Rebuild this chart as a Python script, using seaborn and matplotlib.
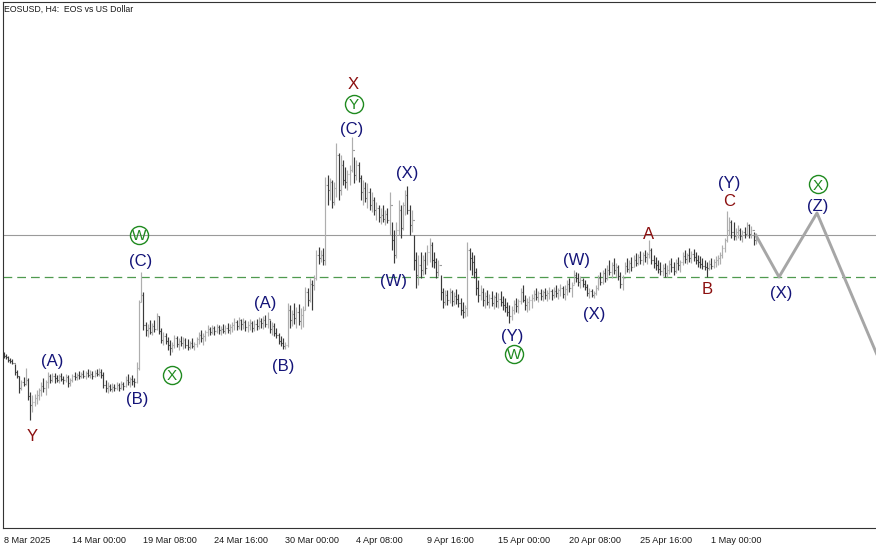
import numpy as np
import pandas as pd
import seaborn as sns
import matplotlib
matplotlib.use("Agg")
import matplotlib.pyplot as plt

# H4 bars for EOSUSD, prices in thousandths of a dollar
highs = [648, 646, 644, 642, 641, 636, 630, 624, 620, 623, 632, 622, 608, 605, 606, 610, 612, 618, 622, 620,
         628, 626, 627, 627, 625, 626, 627, 624, 626, 625, 622, 626, 628, 627, 629, 628, 630, 629, 631, 630,
         629, 630, 631, 632, 631, 628, 620, 618, 616, 617, 616, 618, 617, 619, 618, 624, 626, 623, 625, 622,
         638, 700, 728, 708, 678, 676, 680, 677, 680, 687, 684, 672, 668, 667, 663, 660, 658, 665, 664, 662,
         664, 663, 662, 661, 659, 662, 658, 663, 668, 670, 667, 670, 675, 673, 675, 674, 676, 675, 674, 676,
         675, 677, 676, 678, 682, 680, 683, 681, 682, 680, 679, 681, 679, 680, 681, 683, 682, 684, 685, 688,
         680, 678, 677, 672, 667, 664, 662, 658, 697, 695, 690, 697, 693, 696, 692, 694, 713, 712, 722, 720,
         725, 750, 753, 750, 752, 823, 825, 822, 820, 818, 857, 847, 845, 840, 833, 830, 835, 863, 843, 840,
         838, 825, 820, 818, 817, 812, 808, 803, 798, 795, 792, 795, 790, 792, 808, 778, 770, 778, 800, 795,
         798, 810, 814, 795, 790, 765, 748, 745, 748, 745, 748, 755, 762, 758, 748, 742, 740, 725, 712, 710,
         710, 712, 710, 708, 711, 706, 702, 698, 695, 758, 752, 748, 745, 732, 720, 715, 712, 708, 710, 706,
         709, 705, 708, 707, 709, 704, 702, 698, 695, 694, 700, 702, 701, 712, 715, 705, 702, 704, 706, 710,
         712, 709, 711, 710, 712, 710, 713, 711, 713, 715, 712, 716, 714, 715, 720, 722, 718, 730, 728, 727,
         724, 722, 720, 716, 712, 711, 709, 715, 725, 728, 730, 732, 735, 740, 738, 742, 737, 735, 728, 725,
         738, 742, 740, 743, 745, 747, 746, 749, 748, 750, 748, 760, 752, 745, 743, 740, 738, 736, 737, 735,
         740, 742, 738, 741, 743, 740, 748, 750, 747, 752, 749, 751, 748, 745, 744, 742, 740, 738, 740, 742,
         741, 744, 745, 748, 755, 762, 789, 783, 780, 778, 772, 775, 772, 770, 773, 778, 776, 774, 768, 767]
lows = [642, 641, 638, 637, 636, 625, 622, 607, 610, 614, 615, 600, 580, 588, 594, 596, 600, 604, 608, 605,
        612, 617, 618, 617, 618, 617, 619, 616, 618, 613, 614, 618, 620, 620, 621, 622, 622, 621, 623, 622,
        621, 623, 624, 624, 622, 612, 608, 607, 609, 608, 609, 610, 609, 611, 610, 613, 615, 613, 615, 613,
        617, 630, 698, 670, 664, 663, 666, 665, 668, 670, 666, 657, 655, 656, 650, 645, 648, 652, 653, 650,
        654, 651, 652, 650, 651, 652, 650, 653, 656, 658, 655, 659, 664, 665, 666, 665, 667, 666, 665, 667,
        666, 667, 666, 668, 670, 670, 671, 670, 671, 669, 668, 670, 668, 669, 670, 671, 672, 671, 673, 672,
        667, 665, 664, 662, 656, 654, 651, 651, 653, 672, 674, 676, 672, 675, 671, 673, 690, 694, 698, 690,
        710, 720, 736, 738, 735, 735, 795, 800, 792, 795, 803, 800, 805, 815, 812, 810, 815, 828, 817, 820,
        818, 800, 795, 798, 792, 790, 788, 785, 780, 778, 776, 778, 775, 777, 765, 750, 737, 742, 765, 762,
        770, 785, 786, 765, 768, 730, 712, 715, 722, 725, 726, 735, 738, 733, 732, 722, 724, 700, 692, 695,
        695, 697, 694, 695, 696, 693, 685, 682, 683, 684, 730, 725, 722, 705, 698, 700, 694, 692, 695, 692,
        694, 691, 693, 692, 694, 690, 688, 684, 677, 680, 686, 688, 687, 696, 698, 690, 688, 690, 692, 699,
        700, 698, 700, 699, 701, 699, 701, 700, 702, 703, 701, 704, 702, 700, 705, 708, 703, 716, 718, 714,
        712, 713, 710, 704, 702, 703, 702, 705, 710, 715, 716, 718, 720, 725, 722, 726, 723, 720, 712, 710,
        726, 728, 727, 729, 733, 734, 735, 736, 735, 738, 736, 742, 736, 732, 730, 727, 725, 724, 723, 723,
        726, 728, 725, 727, 730, 728, 735, 737, 736, 738, 737, 739, 736, 733, 732, 731, 730, 723, 730, 731,
        732, 733, 735, 736, 742, 748, 758, 765, 762, 760, 760, 762, 760, 758, 762, 764, 762, 762, 755, 756]
closes = [644, 643, 640, 639, 637, 628, 624, 612, 618, 616, 620, 604, 595, 598, 602, 605, 610, 614, 612, 618,
          624, 620, 624, 622, 620, 624, 621, 620, 623, 617, 620, 624, 623, 625, 624, 626, 624, 627, 625, 626,
          624, 627, 626, 628, 625, 615, 612, 614, 611, 613, 612, 615, 612, 616, 614, 620, 618, 621, 619, 618,
          632, 698, 705, 675, 670, 672, 668, 674, 671, 684, 669, 660, 664, 659, 655, 652, 655, 662, 656, 659,
          657, 660, 655, 653, 657, 654, 656, 661, 665, 662, 664, 668, 671, 668, 672, 669, 673, 670, 671, 669,
          672, 670, 673, 675, 678, 674, 680, 676, 678, 673, 675, 677, 672, 676, 674, 679, 677, 680, 676, 681,
          671, 674, 667, 665, 659, 657, 654, 655, 690, 680, 686, 682, 688, 679, 685, 690, 708, 700, 716, 715,
          722, 745, 742, 745, 740, 815, 810, 818, 798, 812, 845, 810, 835, 820, 818, 826, 830, 850, 825, 835,
          822, 808, 812, 802, 808, 795, 800, 790, 792, 783, 785, 781, 786, 780, 795, 760, 745, 770, 790, 772,
          795, 805, 790, 775, 780, 740, 725, 735, 730, 740, 732, 748, 755, 740, 738, 728, 735, 708, 698, 705,
          700, 708, 699, 704, 701, 697, 690, 688, 692, 750, 742, 738, 728, 712, 705, 708, 700, 704, 698, 702,
          697, 703, 699, 701, 698, 695, 693, 688, 684, 690, 696, 694, 699, 708, 700, 695, 698, 700, 702, 706,
          703, 707, 704, 708, 705, 707, 709, 705, 709, 707, 710, 712, 706, 711, 716, 712, 715, 725, 722, 718,
          720, 716, 713, 707, 709, 705, 707, 712, 722, 718, 727, 722, 730, 728, 735, 730, 733, 724, 716, 722,
          734, 731, 737, 733, 740, 737, 743, 740, 745, 743, 746, 750, 740, 737, 735, 731, 729, 732, 727, 730,
          736, 733, 729, 737, 735, 738, 744, 741, 745, 742, 746, 743, 740, 738, 736, 734, 733, 732, 736, 734,
          738, 740, 742, 745, 752, 760, 770, 778, 768, 764, 768, 770, 764, 768, 766, 775, 766, 770, 760, 765]
first_open = 646

# levels and forecast path
resistance_level = 765
support_level = 723
forecast_bars = [339, 349.5, 366.6, 400]
forecast_prices = [765, 723, 787, 612]

# x-axis labels
tick_dates = ["2025-03-08 20:00", "2025-03-14 00:00", "2025-03-19 08:00", "2025-03-24 16:00",
              "2025-03-30 00:00", "2025-04-04 08:00", "2025-04-09 16:00", "2025-04-15 00:00",
              "2025-04-20 08:00", "2025-04-25 16:00", "2025-05-01 00:00"]
tick_labels = ["8 Mar 2025", "14 Mar 00:00", "19 Mar 08:00", "24 Mar 16:00", "30 Mar 00:00",
               "4 Apr 08:00", "9 Apr 16:00", "15 Apr 00:00", "20 Apr 08:00", "25 Apr 16:00", "1 May 00:00"]

# wave labels: (bar, price, text, kind)
wave_labels = [
    (12.8, 565, "Y", "red"), (21.9, 640, "(A)", "blue"), (60.2, 602, "(B)", "blue"),
    (61.8, 740, "(C)", "blue"), (61.0, 765, "W", "circle"), (75.9, 625, "X", "circle"),
    (117.9, 698, "(A)", "blue"), (126.0, 635, "(B)", "blue"), (157.0, 872, "(C)", "blue"),
    (157.8, 896, "Y", "circle"), (157.8, 917, "X", "red"), (181.8, 828, "(X)", "blue"),
    (175.9, 720, "(W)", "blue"), (229.2, 665, "(Y)", "blue"), (230.0, 646, "W", "circle"),
    (258.0, 741, "(W)", "blue"), (266.1, 687, "(X)", "blue"), (290.9, 767, "A", "red"),
    (317.0, 712, "B", "red"), (327.0, 818, "(Y)", "blue"), (327.0, 800, "C", "red"),
    (350.4, 708, "(X)", "blue"), (366.9, 795, "(Z)", "blue"), (366.9, 816, "X", "circle"),
]

sns.set_style("white")
plt.rcParams["font.family"] = ["Liberation Sans", "DejaVu Sans"]

n = len(closes)
idx = np.arange(n)
opens = np.array([first_open] + closes[:-1]) / 1000
highs = np.array(highs) / 1000
lows = np.array(lows) / 1000
closes = np.array(closes) / 1000
bar_colors = np.where(closes >= opens, "#aeaeae", "#3a3a3a")

fig = plt.figure(figsize=(8.76, 5.45), dpi=100)
ax = fig.add_axes([3 / 876, 17 / 545, 873 / 876, 526 / 545])

# reference lines
ax.axhline(resistance_level / 1000, color="#9a9a9a", lw=0.8, zorder=1)
ax.axhline(support_level / 1000, color="#4f9a4f", lw=0.9, ls=(0, (7, 4)), zorder=1)

# OHLC bars
ax.vlines(idx, lows, highs, colors=bar_colors, lw=0.85, zorder=2)
ax.hlines(opens, idx - 0.45, idx, colors=bar_colors, lw=0.8, zorder=2)
ax.hlines(closes, idx, idx + 0.45, colors=bar_colors, lw=0.8, zorder=2)

# forecast path
proj = pd.DataFrame({"bar": forecast_bars, "price": np.array(forecast_prices) / 1000})
sns.lineplot(data=proj, x="bar", y="price", color="#a6a6a6", lw=2.1, sort=False,
             estimator=None, ax=ax, zorder=3)

# wave labels
for x, y, txt, kind in wave_labels:
    if kind == "circle":
        ax.plot(x, y / 1000, marker="o", ms=13, mfc="none", mec="#1f8a1f", mew=1.0, zorder=4)
        ax.text(x, y / 1000, txt, color="#1f8a1f", fontsize=11, ha="center", va="center_baseline", zorder=5)
    elif kind == "red":
        ax.text(x, y / 1000, txt, color="#8b0f0f", fontsize=12, ha="center", va="center_baseline", zorder=5)
    else:
        ax.text(x, y / 1000, txt, color="#141478", fontsize=12, ha="center", va="center_baseline", zorder=5)

# axes styling
ax.set_xlim(-0.25, 393.2)
ax.set_ylim(0.472, 0.998)
start = pd.Timestamp(tick_dates[0])
tick_pos = [(pd.Timestamp(d) - start) / pd.Timedelta(hours=4) for d in tick_dates]
ax.set_xticks(tick_pos)
ax.set_xticklabels(tick_labels, fontsize=6.6, color="#1a1a1a")
for lab in ax.get_xticklabels():
    lab.set_horizontalalignment("left")
ax.set_yticks([])
ax.tick_params(axis="x", direction="out", length=4, width=0.8, color="#333333", pad=1.5)
ax.set_xlabel("")
ax.set_ylabel("")
for side in ["left", "top", "bottom"]:
    ax.spines[side].set_color("#333333")
    ax.spines[side].set_linewidth(0.8)
ax.spines["right"].set_visible(False)

ax.text(0.001, 0.995, "EOSUSD, H4:  EOS vs US Dollar", transform=ax.transAxes,
        fontsize=6.3, color="#1a1a1a", ha="left", va="top")

fig.savefig("out.png", dpi=100, facecolor="white")
